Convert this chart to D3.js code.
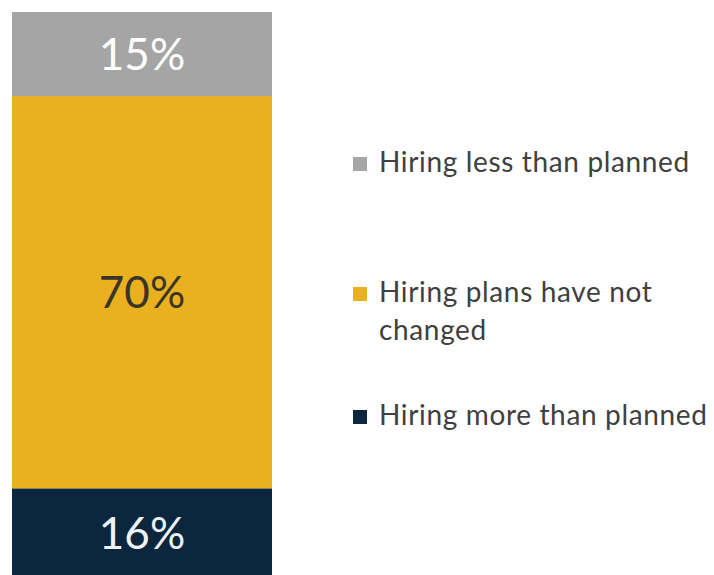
<!DOCTYPE html>
<html><head><meta charset="utf-8">
<script src="https://cdn.jsdelivr.net/npm/d3@7"></script>
<style>html,body{margin:0;padding:0;background:#fff;overflow:hidden}</style>
</head><body>
<svg id="chart" width="714" height="575"></svg>
<script>
// Data (bottom to top)
const categories = ["Hiring more than planned", "Hiring plans have not changed", "Hiring less than planned"];
const values = [16, 70, 15];
const colors = ["#0c263d", "#e9b11f", "#a5a5a5"];
const labelColors = ["#eef3f8", "#3a3528", "#ffffff"];
const legendOrder = [2, 1, 0];
const legendLines = [["Hiring less than planned"], ["Hiring plans have not", "changed"], ["Hiring more than planned"]];

const svg = d3.select("#chart");
const total = d3.sum(values);
const y = d3.scaleLinear().domain([0, total]).range([578, 12]);
const x = d3.scaleBand().domain(["all"]).range([12, 272]).padding(0);

let cum = 0;
const segs = values.map((v, i) => { const s = {i, v, y0: cum, y1: cum + v}; cum += v; return s; });

svg.selectAll("rect.seg").data(segs).join("rect")
  .attr("class", "seg")
  .attr("x", x("all")).attr("width", x.bandwidth())
  .attr("y", d => y(d.y1)).attr("height", d => y(d.y0) - y(d.y1))
  .attr("fill", d => colors[d.i]);

svg.selectAll("text.lbl").data(segs).join("text")
  .attr("class", "lbl")
  .attr("x", x("all") + x.bandwidth() / 2)
  .attr("y", d => (y(d.y0) + y(d.y1)) / 2 + 16)
  .attr("text-anchor", "middle")
  .attr("font-family", "Lato, 'Open Sans', sans-serif")
  .attr("font-size", 44)
  .attr("fill", d => labelColors[d.i])
  .text(d => d.v + "%");

const legendY = [172, 302, 425];
const lg = svg.append("g");
legendOrder.forEach((ci, k) => {
  const g = lg.append("g");
  g.append("rect").attr("x", 353).attr("y", legendY[k] - 15).attr("width", 14).attr("height", 14).attr("fill", colors[ci]);
  legendLines[k].forEach((line, j) => {
    g.append("text").attr("x", 379).attr("y", legendY[k] + j * 37.5)
      .attr("font-family", "Lato, 'Open Sans', sans-serif")
      .attr("font-size", 28)
      .attr("letter-spacing", 0.65)
      .attr("fill", "#404040")
      .text(line);
  });
});
</script>
</body></html>
